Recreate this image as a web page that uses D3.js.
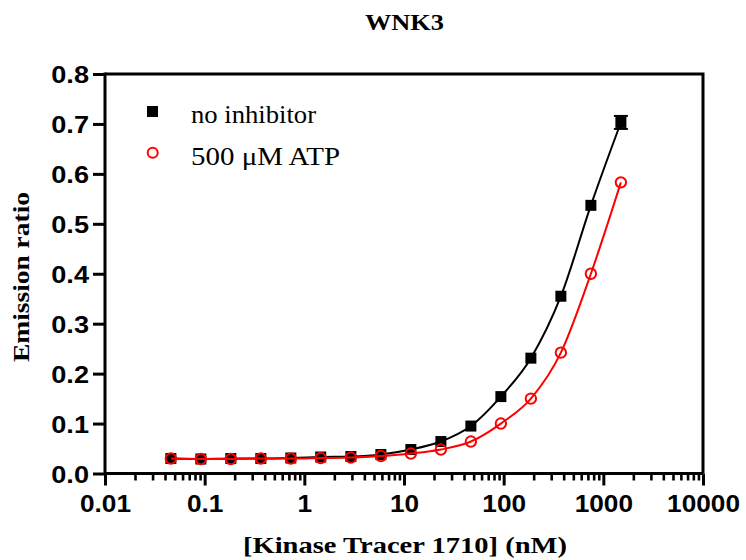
<!DOCTYPE html>
<html>
<head>
<meta charset="utf-8">
<script src="https://cdn.jsdelivr.net/npm/d3@7"></script>
<style>
  html, body { margin: 0; padding: 0; background: #fff; }
  svg { display: block; }
</style>
</head>
<body>
<svg id="chart" width="746" height="560"></svg>
<script>
// ---- data ----
const concentrations = [0.0458, 0.0916, 0.183, 0.366, 0.732, 1.46, 2.93, 5.86, 11.72, 23.44, 46.88, 93.75, 187.5, 375, 750, 1500];
const noInhibitor = [0.030, 0.029, 0.030, 0.030, 0.031, 0.033, 0.034, 0.038, 0.048, 0.064, 0.095, 0.154, 0.231, 0.355, 0.537, 0.703];
const noInhibitorErr = [0, 0, 0, 0, 0, 0, 0, 0, 0, 0, 0, 0, 0, 0, 0, 0.013];
const atp500 = [0.030, 0.029, 0.029, 0.030, 0.030, 0.031, 0.032, 0.035, 0.040, 0.048, 0.064, 0.100, 0.150, 0.242, 0.400, 0.583];
const seriesNames = ["no inhibitor", "500 \u03BCM ATP"];
const xMajorTicks = [0.01, 0.1, 1, 10, 100, 1000, 10000];
const xTickLabels = ["0.01", "0.1", "1", "10", "100", "1000", "10000"];
const yTicks = [0, 0.1, 0.2, 0.3, 0.4, 0.5, 0.6, 0.7, 0.8];
const chartTitle = "WNK3";
const xTitle = "[Kinase Tracer 1710] (nM)";
const yTitle = "Emission ratio";

// ---- layout ----
const svg = d3.select("#chart");
const pL = 105, pR = 703, pT = 74, pB = 473.5;
const x = d3.scaleLog().domain([0.01, 10000]).range([pL, pR]);
const y = d3.scaleLinear().domain([0, 0.8]).range([pB, pT]);
const sans = "'Liberation Sans', Arial, sans-serif";
const serif = "'Liberation Serif', 'Times New Roman', serif";

function stretch(sel, factor) {
  sel.each(function () {
    const w = this.getComputedTextLength();
    this.setAttribute("textLength", w * factor);
    this.setAttribute("lengthAdjust", "spacingAndGlyphs");
  });
}
function fitWidth(sel, width) {
  sel.attr("textLength", width).attr("lengthAdjust", "spacingAndGlyphs");
}

// frame (top & right)
svg.append("path")
  .attr("d", `M${pL},${pT}H${pR}V${pB}`)
  .attr("fill", "none").attr("stroke", "#000").attr("stroke-width", 3);

// minor x ticks
const minor = [];
for (let e = -2; e < 4; e++) for (let m = 2; m <= 9; m++) minor.push(m * Math.pow(10, e));
const xMinorG = svg.append("g").attr("transform", `translate(0,${pB})`)
  .call(d3.axisBottom(x).tickValues(minor).tickSize(7).tickSizeOuter(0).tickFormat(""));
xMinorG.select(".domain").remove();
xMinorG.selectAll("line").attr("stroke-width", 2.6);

// major x axis
const xG = svg.append("g").attr("transform", `translate(0,${pB})`)
  .call(d3.axisBottom(x).tickValues(xMajorTicks).tickSize(12).tickSizeOuter(0).tickPadding(10)
    .tickFormat((d, i) => xTickLabels[i]));
xG.select(".domain").attr("stroke-width", 3).attr("d", `M${pL},0H${pR}`);
xG.selectAll("line").attr("stroke-width", 3);
xG.selectAll("text").attr("font-family", sans).attr("font-weight", "bold").attr("font-size", 23).attr("fill", "#000");
stretch(xG.selectAll("text"), 1.14);

// y axis
const yG = svg.append("g").attr("transform", `translate(${pL},0)`)
  .call(d3.axisLeft(y).tickValues(yTicks).tickSize(12).tickSizeOuter(0).tickPadding(4)
    .tickFormat(d3.format(".1f")));
yG.select(".domain").attr("stroke-width", 3).attr("d", `M0,${pB + 1.5}V${pT - 1.5}`);
yG.selectAll("line").attr("stroke-width", 3);
yG.selectAll("text").attr("font-family", sans).attr("font-weight", "bold").attr("font-size", 23).attr("fill", "#000").attr("dy", "0.38em");
stretch(yG.selectAll("text"), 1.18);

// titles
svg.append("text").attr("x", 404.5).attr("y", 29.5).attr("text-anchor", "middle")
  .attr("font-family", serif).attr("font-weight", "bold").attr("font-size", 23).text(chartTitle)
  .call(fitWidth, 79);
svg.append("text").attr("x", 405).attr("y", 553).attr("text-anchor", "middle")
  .attr("font-family", serif).attr("font-weight", "bold").attr("font-size", 23).text(xTitle)
  .call(fitWidth, 324);
svg.append("text").attr("transform", "translate(29,277) rotate(-90)").attr("text-anchor", "middle")
  .attr("font-family", serif).attr("font-weight", "bold").attr("font-size", 23).text(yTitle)
  .call(fitWidth, 170);

// data
const blackData = concentrations.map((c, i) => ({ c, v: noInhibitor[i], e: noInhibitorErr[i] }));
const redData = concentrations.map((c, i) => ({ c, v: atp500[i] }));
const line = d3.line().x(d => x(d.c)).y(d => y(d.v)).curve(d3.curveMonotoneX);

// black series
svg.append("path").datum(blackData).attr("d", line)
  .attr("fill", "none").attr("stroke", "#000").attr("stroke-width", 2);
const eb = svg.append("g").selectAll("g").data(blackData.filter(d => d.e > 0)).join("g");
eb.append("line").attr("x1", d => x(d.c)).attr("x2", d => x(d.c))
  .attr("y1", d => y(d.v - d.e)).attr("y2", d => y(d.v + d.e)).attr("stroke", "#000").attr("stroke-width", 2);
eb.append("line").attr("x1", d => x(d.c) - 7).attr("x2", d => x(d.c) + 7)
  .attr("y1", d => y(d.v + d.e)).attr("y2", d => y(d.v + d.e)).attr("stroke", "#000").attr("stroke-width", 2);
eb.append("line").attr("x1", d => x(d.c) - 7).attr("x2", d => x(d.c) + 7)
  .attr("y1", d => y(d.v - d.e)).attr("y2", d => y(d.v - d.e)).attr("stroke", "#000").attr("stroke-width", 2);
svg.append("g").selectAll("rect").data(blackData).join("rect")
  .attr("x", d => x(d.c) - 5.5).attr("y", d => y(d.v) - 5.5)
  .attr("width", 11).attr("height", 11).attr("fill", "#000");

// red series
svg.append("path").datum(redData).attr("d", line)
  .attr("fill", "none").attr("stroke", "#ff0000").attr("stroke-width", 2);
svg.append("g").selectAll("circle").data(redData).join("circle")
  .attr("cx", d => x(d.c)).attr("cy", d => y(d.v)).attr("r", 5.2)
  .attr("fill", "none").attr("stroke", "#ff0000").attr("stroke-width", 2);

// legend
svg.append("rect").attr("x", 147).attr("y", 106).attr("width", 11).attr("height", 11).attr("fill", "#000");
svg.append("circle").attr("cx", 152.7).attr("cy", 152.7).attr("r", 5).attr("fill", "none")
  .attr("stroke", "#ff0000").attr("stroke-width", 2);
svg.append("text").attr("x", 191).attr("y", 123).attr("font-family", serif).attr("font-size", 25)
  .text(seriesNames[0]).call(fitWidth, 125);
svg.append("text").attr("x", 191).attr("y", 165).attr("font-family", serif).attr("font-size", 25)
  .text(seriesNames[1]).call(fitWidth, 149);
</script>
</body>
</html>
